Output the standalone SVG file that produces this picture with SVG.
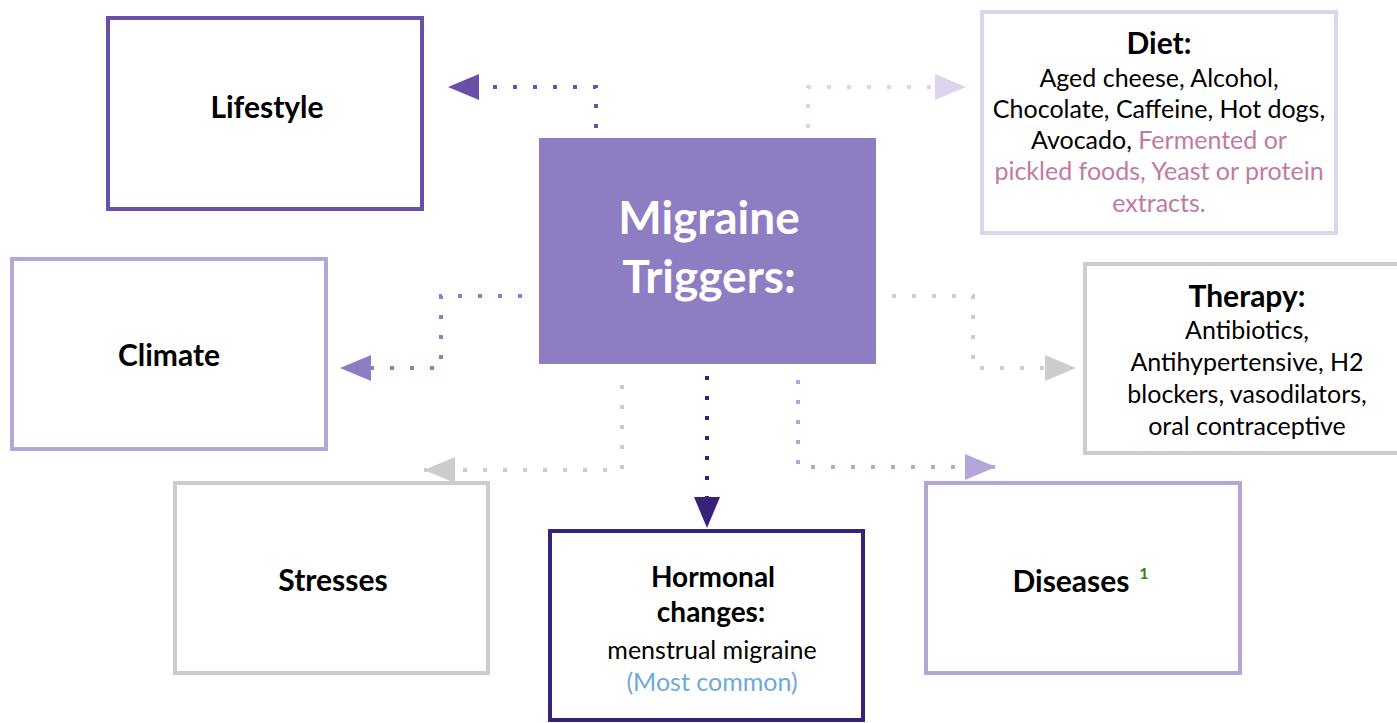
<svg xmlns="http://www.w3.org/2000/svg" width="1397" height="723" viewBox="0 0 1397 723">
<defs>
<style>
.box{fill:#fff;stroke-width:4}
.t{font-family:Lato,"Liberation Sans",sans-serif;fill:#000;text-anchor:middle}
.b{font-weight:bold;font-size:30px}
.r{font-size:25px}
.c{fill:none;stroke-width:4;stroke-dasharray:4 16}
</style>
<marker id="a1" markerWidth="32" markerHeight="26" refX="31" refY="13" orient="auto" markerUnits="userSpaceOnUse"><path d="M0,0 L31,13 L0,26 Z" fill="#6a4fa8"/></marker>
<marker id="a2" markerWidth="32" markerHeight="26" refX="31" refY="13" orient="auto" markerUnits="userSpaceOnUse"><path d="M0,0 L31,13 L0,26 Z" fill="#dcd3ec"/></marker>
<marker id="a3" markerWidth="32" markerHeight="26" refX="31" refY="13" orient="auto" markerUnits="userSpaceOnUse"><path d="M0,0 L31,13 L0,26 Z" fill="#8e7dc2"/></marker>
<marker id="a4" markerWidth="32" markerHeight="26" refX="31" refY="13" orient="auto" markerUnits="userSpaceOnUse"><path d="M0,0 L31,13 L0,26 Z" fill="#cccccc"/></marker>
<marker id="a5" markerWidth="32" markerHeight="26" refX="31" refY="13" orient="auto" markerUnits="userSpaceOnUse"><path d="M0,0 L31,13 L0,26 Z" fill="#38217a"/></marker>
<marker id="a6" markerWidth="32" markerHeight="26" refX="31" refY="13" orient="auto" markerUnits="userSpaceOnUse"><path d="M0,0 L31,13 L0,26 Z" fill="#b5a6d8"/></marker>
</defs>
<rect width="1397" height="723" fill="#fff"/>
<g id="connectors">
<path class="c" d="M596,128 V87 H448" stroke="#6a4fa8" marker-end="url(#a1)"/>
<path class="c" d="M808,128 V87 H966" stroke="#dcd3ec" marker-end="url(#a2)"/>
<path class="c" d="M522,296 H441 V368 H340" stroke="#8e7dc2" marker-end="url(#a3)"/>
<path class="c" d="M892,296 H973 V368 H1076" stroke="#cccccc" marker-end="url(#a4)"/>
<path class="c" d="M622,385 V470 H424" stroke="#cccccc" marker-end="url(#a4)"/>
<path class="c" d="M707,376 V528" stroke="#38217a" marker-end="url(#a5)"/>
<path class="c" d="M798,380 V467 H996" stroke="#b5a6d8" marker-end="url(#a6)"/>
</g>
<g id="center">
<rect x="539" y="138" width="337" height="226" fill="#8e7dc2"/>
<text class="t" x="709" y="234" style="font-size:46px;font-weight:bold;fill:#fff">Migraine</text>
<text class="t" x="709" y="293" style="font-size:46px;font-weight:bold;fill:#fff">Triggers:</text>
</g>
<g id="lifestyle">
<rect class="box" x="108" y="18" width="314" height="191" stroke="#6a4fa8"/>
<text class="t b" x="267" y="118">Lifestyle</text>
</g>
<g id="diet">
<rect class="box" x="982" y="12" width="354" height="221" stroke="#dcd3ec"/>
<text class="t b" x="1159" y="54">Diet:</text>
<text class="t r" x="1159" y="87">Aged cheese, Alcohol,</text>
<text class="t r" x="1159" y="118">Chocolate, Caffeine, Hot dogs,</text>
<text class="t r" x="1159" y="149">Avocado, <tspan style="fill:#c27ba0">Fermented or</tspan></text>
<text class="t r" x="1159" y="180" style="fill:#c27ba0">pickled foods, Yeast or protein</text>
<text class="t r" x="1159" y="212" style="fill:#c27ba0">extracts.</text>
</g>
<g id="climate">
<rect class="box" x="12" y="259" width="314" height="190" stroke="#b5a6d8"/>
<text class="t b" x="169" y="366">Climate</text>
</g>
<g id="therapy">
<rect class="box" x="1085" y="264" width="320" height="189" stroke="#cccccc"/>
<text class="t b" x="1247" y="307">Therapy:</text>
<text class="t r" x="1247" y="339">Antibiotics,</text>
<text class="t r" x="1247" y="371">Antihypertensive, H2</text>
<text class="t r" x="1247" y="403">blockers, vasodilators,</text>
<text class="t r" x="1247" y="435">oral contraceptive</text>
</g>
<g id="stresses">
<rect class="box" x="175" y="483" width="313" height="190" stroke="#cccccc"/>
<text class="t b" x="333" y="591">Stresses</text>
</g>
<g id="hormonal">
<rect class="box" x="550" y="531" width="313" height="189" stroke="#38217a"/>
<text class="t b" x="713" y="587" style="font-size:28px">Hormonal</text>
<text class="t b" x="711" y="622" style="font-size:28px">changes:</text>
<text class="t r" x="712" y="659">menstrual migraine</text>
<text class="t r" x="712" y="691" style="fill:#6fa8dc">(Most common)</text>
</g>
<g id="diseases">
<rect class="box" x="926" y="483" width="314" height="190" stroke="#b5a6d8"/>
<text class="t b" x="1071" y="592">Diseases</text>
<text class="t" x="1144" y="579" style="font-size:16px;font-weight:bold;fill:#3a7d1e">1</text>
</g>
</svg>
